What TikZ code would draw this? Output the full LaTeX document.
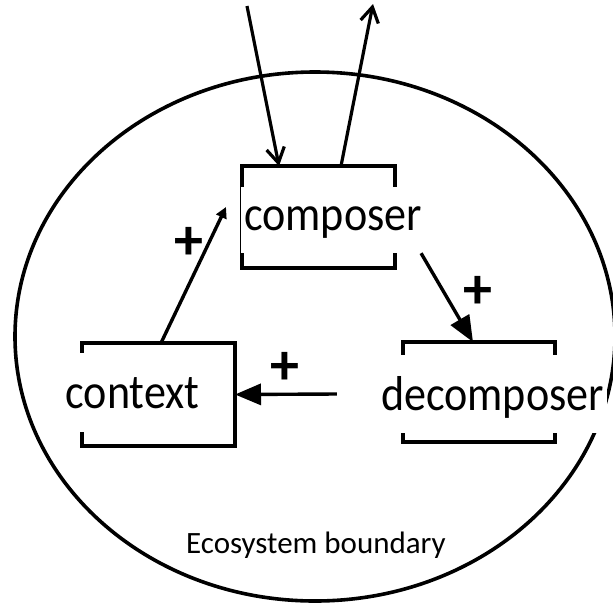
\documentclass[tikz,border=0pt]{standalone}
\usepackage{fontspec}
\setmainfont{Carlito}
\newfontfamily\lblfont[FakeStretch=0.9]{Carlito}
\usetikzlibrary{arrows.meta}
\begin{document}
\begin{tikzpicture}[x=1pt,y=-1pt,
  boxnode/.style={draw=black,line width=3.2pt,inner sep=0pt,outer sep=0pt,fill=white},
  lbl/.style={fill=white,inner xsep=3pt,inner ysep=0pt,anchor=base,font=\lblfont\fontsize{49}{49}\selectfont},
  plus/.style={font=\fontsize{58}{58}\selectfont\bfseries,inner sep=0pt},
  bigarrow/.style={line width=3.4pt,-{Triangle[length=26pt,width=21pt]}},
  smallarrow/.style={line width=3.4pt,-{Triangle[length=11pt,width=11pt]}},
  openarrow/.style={line width=3.2pt,-{Straight Barb[length=15pt,width=18pt,line width=3.2pt]}}
]
\useasboundingbox (0,0) rectangle (613,606);
% ecosystem boundary
\draw[line width=3.6pt] (315,336.5) ellipse [x radius=300, y radius=264.5];
\node[font=\fontsize{31}{31}\selectfont,anchor=base] (eco) at (316,553) {Ecosystem boundary};
% boxes
\node[boxnode,minimum width=153pt,minimum height=102pt] (comp) at (318.5,217) {};
\node[boxnode,minimum width=153pt,minimum height=103pt] (ctx) at (158.5,394.5) {};
\node[boxnode,minimum width=152pt,minimum height=100pt] (dec) at (479,392) {};
% labels
\node[lbl,text height=43pt,text depth=23pt] (compT) at (333,230) {composer};
\node[lbl,text height=55pt,text depth=24pt] (ctxT) at (132.5,408) {context};
\node[lbl,text height=55pt,text depth=23pt] (decT) at (492.5,410) {decomposer};
% outside arrows
\coordinate (inTop) at (247,6);
\coordinate (outTop) at (373,4);
\draw[openarrow] (inTop) -- ([xshift=-39.5pt]comp.north);
\draw[openarrow] ([xshift=22.5pt]comp.north) -- (outTop);
% feedback arrows
\draw[bigarrow] ([shift={(-4pt,0pt)}]compT.south east) -- ([xshift=-6pt]dec.north);
\draw[bigarrow] ([xshift=-41pt]decT.west) -- (ctx.east);
\draw[smallarrow] ([xshift=2.5pt]ctx.north) -- ([shift={(-16pt,10pt)}]comp.west);
% plus signs
\node[plus] (p1) at (189,243) {+};
\node[plus] (p2) at (478,292) {+};
\node[plus] (p3) at (285,368) {+};
\end{tikzpicture}
\end{document}
